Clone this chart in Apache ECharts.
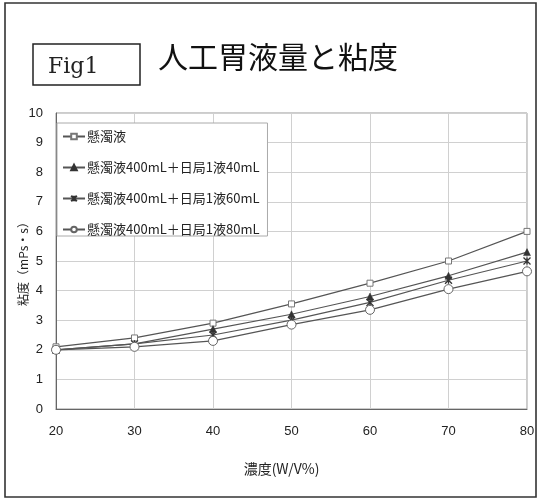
<!DOCTYPE html>
<html>
<head>
<meta charset="utf-8">
<script src="https://cdn.jsdelivr.net/npm/echarts@6/dist/echarts.min.js"></script>
<style>
  html, body { margin: 0; padding: 0; background: #fff; }
  #chart { width: 541px; height: 501px; }
</style>
</head>
<body>
<div id="chart"></div>
<script>
// Concentration (W/V%) on the x axis
const concentrations = [20, 30, 40, 50, 60, 70, 80];

// Viscosity (mPs·s) for each mixture
const seriesNames = [
  '懸濁液',
  '懸濁液400mL＋日局1液40mL',
  '懸濁液400mL＋日局1液60mL',
  '懸濁液400mL＋日局1液80mL'
];
const suspension     = [2.1, 2.4, 2.9, 3.55, 4.25, 5.0, 6.0];
const plusFluid40mL  = [2.0, 2.2, 2.7, 3.2, 3.8, 4.5, 5.3];
const plusFluid60mL  = [2.0, 2.2, 2.5, 3.0, 3.6, 4.35, 5.0];
const plusFluid80mL  = [2.0, 2.1, 2.3, 2.85, 3.35, 4.05, 4.65];

const titleText = '人工胃液量と粘度';
const figLabel = 'Fig1';
const xAxisName = '濃度(W/V%)';
const yAxisName = '粘度（mPs・s）';

const LINE = '#555';
const MARK = '#333';
const FONT = '"Liberation Sans", Arial, sans-serif';
const CJK = '"Noto Sans CJK JP", "Liberation Sans", sans-serif';

function pairs(values) {
  return concentrations.map((c, i) => [c, values[i]]);
}

const markers = [
  { symbol: 'rect', symbolSize: 6, fill: '#fff', stroke: '#777', bw: 1 },
  { symbol: 'triangle', symbolSize: 7, fill: MARK, stroke: MARK, bw: 0.5 },
  { symbol: 'path://M0,0L10,10M10,0L0,10M5,0L5,10', symbolSize: 7, fill: 'none', stroke: MARK, bw: 1.3 },
  { symbol: 'circle', symbolSize: 9, fill: '#fff', stroke: '#666', bw: 1 }
];
const valueSets = [suspension, plusFluid40mL, plusFluid60mL, plusFluid80mL];

const chart = echarts.init(document.getElementById('chart'), null, { renderer: 'canvas' });

chart.setOption({
  backgroundColor: '#fff',
  animation: false,
  grid: {
    left: 56, right: 14, top: 113, bottom: 92,
    show: true, borderColor: '#999', borderWidth: 1
  },
  legend: {
    left: 57, top: 123, orient: 'vertical',
    width: 210,
    padding: [7, 8, 0, 5],
    itemGap: 18,
    itemWidth: 22, itemHeight: 7,
    backgroundColor: '#fff',
    borderColor: '#aaa', borderWidth: 1,
    textStyle: { fontFamily: CJK, fontSize: 13, color: '#222', padding: [0, 0, 0, -3] },
    data: seriesNames
  },
  xAxis: {
    type: 'value', min: 20, max: 80, interval: 10,
    name: xAxisName, nameLocation: 'middle', nameGap: 53, nameMoveOverlap: false,
    nameTextStyle: { fontFamily: CJK, fontSize: 14, color: '#222', padding: [0, 20, 0, 0] },
    axisLine: { lineStyle: { color: '#666', width: 1 } },
    axisTick: { show: false },
    axisLabel: { margin: 16, fontFamily: FONT, fontSize: 13, color: '#222' },
    splitLine: { lineStyle: { color: '#d0d0d0', width: 1 } }
  },
  yAxis: {
    type: 'value', min: 0, max: 10, interval: 1,
    name: yAxisName, nameLocation: 'middle', nameGap: 27, nameRotate: 90, nameMoveOverlap: false,
    nameTextStyle: { fontFamily: CJK, fontSize: 12, color: '#222' },
    axisLine: { show: true, lineStyle: { color: '#666', width: 1 } },
    axisTick: { show: false },
    axisLabel: { margin: 13, fontFamily: FONT, fontSize: 13, color: '#222' },
    splitLine: { lineStyle: { color: '#d0d0d0', width: 1 } }
  },
  series: valueSets.map((vals, i) => ({
    name: seriesNames[i],
    type: 'line',
    data: pairs(vals),
    symbol: markers[i].symbol,
    symbolSize: markers[i].symbolSize,
    showAllSymbol: true,
    lineStyle: { color: LINE, width: 1.2 },
    itemStyle: { color: markers[i].fill, borderColor: markers[i].stroke, borderWidth: markers[i].bw },
    emphasis: { disabled: true },
    z: 3 + i
  })),
  graphic: [
    {
      type: 'rect', silent: true, z: -1,
      shape: { x: 5, y: 3, width: 531, height: 494 },
      style: { fill: 'none', stroke: '#333', lineWidth: 1.6 }
    },
    {
      type: 'rect', silent: true,
      shape: { x: 33, y: 44, width: 107, height: 41 },
      style: { fill: '#fff', stroke: '#222', lineWidth: 1.5 }
    },
    {
      type: 'text', silent: true,
      x: 48, y: 67,
      style: {
        text: figLabel, font: '22px "DejaVu Serif", "Liberation Serif", serif',
        fill: '#222', textVerticalAlign: 'middle', verticalAlign: 'middle'
      }
    },
    {
      type: 'text', silent: true,
      x: 158, y: 57,
      style: {
        text: titleText, font: '30px "Noto Sans CJK JP", sans-serif',
        fill: '#111', verticalAlign: 'middle', textVerticalAlign: 'middle'
      }
    }
  ]
});
</script>
</body>
</html>
